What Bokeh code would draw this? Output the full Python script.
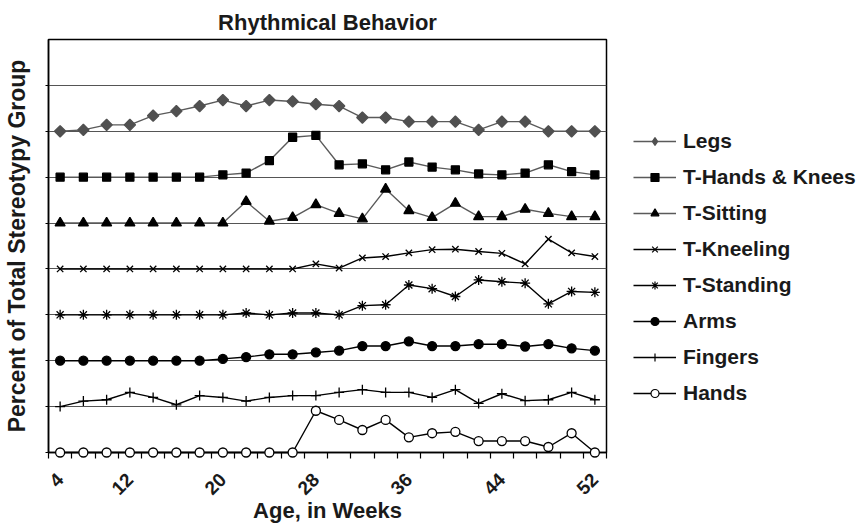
import math
from bokeh.plotting import figure
from bokeh.layouts import row
from bokeh.models import Range1d, FixedTicker, Legend, LegendItem
from bokeh.embed import file_html
from bokeh.resources import INLINE

# ---------------- data ----------------
weeks = [4, 7, 10, 12, 14, 16, 18, 20, 22, 24, 26, 28, 30, 32, 34, 36,
         38, 40, 42, 44, 46, 48, 50, 52]
tick_weeks = [4, 12, 20, 28, 36, 44, 52]

series_names = ["Legs", "T-Hands & Knees", "T-Sitting", "T-Kneeling",
                "T-Standing", "Arms", "Fingers", "Hands"]

legs = [0, 3, 14, 14, 34, 44, 55, 68, 55, 68, 65, 59, 55, 30, 30, 21, 21, 21, 3, 21, 21, 0, 0, 0]
hands_knees = [0, 0, 0, 0, 0, 0, 0, 5, 9, 36, 87, 91, 27, 29, 16, 33, 22, 16, 7, 5, 9, 27, 12, 5]
sitting = [0, 0, 0, 0, 0, 0, 0, 0, 47, 4, 12, 40, 21, 9, 74, 27, 12, 43, 14, 14, 30, 21, 14, 14]
kneeling = [0, 0, 0, 0, 0, 0, 0, 0, 0, 0, 0, 11, 2, 24, 27, 35, 42, 43, 38, 34, 11, 65, 35, 27]
standing = [0, 0, 0, 0, 0, 0, 0, 0, 4, 0, 4, 4, 0, 20, 22, 65, 57, 40, 76, 72, 69, 24, 51, 49]
arms = [0, 0, 0, 0, 0, 0, 0, 4, 8, 14, 14, 18, 22, 32, 32, 42, 32, 32, 36, 36, 31, 36, 27, 22]
fingers = [0, 12, 15, 31, 20, 4, 24, 20, 12, 20, 24, 24, 31, 37, 31, 31, 20, 37, 7, 28, 13, 15, 31, 15]
hands = [0, 0, 0, 0, 0, 0, 0, 0, 0, 0, 0, 91, 71, 49, 71, 33, 42, 45, 25, 25, 25, 12, 42, 0]

series_values = [legs, hands_knees, sitting, kneeling, standing, arms, fingers, hands]

# ---------------- styles ----------------
BAND = 100
n_bands = len(series_names) + 1
FONT = "Liberation Sans"
TXT = "#1a1a1a"

styles = [
    dict(marker="square", angle=math.pi / 4, size=8, fill="#505050", line="#505050", lc="#5a5a5a",
         lmarker="diamond", lsize=11),
    dict(marker="square", angle=0, size=8, fill="black", line="black", lc="#5a5a5a",
         lmarker="square", lsize=7),
    dict(marker="triangle", angle=0, size=10, fill="black", line="black", lc="#5a5a5a",
         lmarker="triangle", lsize=9),
    dict(marker="x", angle=0, size=9, fill="black", line="black", lc="black",
         lmarker="x", lsize=8),
    dict(marker="asterisk", angle=0, size=10, fill="black", line="black", lc="black",
         lmarker="asterisk", lsize=9),
    dict(marker="circle", angle=0, size=9, fill="black", line="black", lc="black",
         lmarker="circle", lsize=8),
    dict(marker="cross", angle=0, size=10, fill="black", line="black", lc="black",
         lmarker="cross", lsize=9),
    dict(marker="circle", angle=0, size=9, fill="white", line="black", lc="black",
         lmarker="circle", lsize=8),
]

x_idx = list(range(len(weeks)))

p = figure(width=608, height=529, output_backend="svg", toolbar_location=None,
           x_range=Range1d(-0.5, len(weeks) - 0.5),
           y_range=Range1d(0, n_bands * BAND),
           min_border_left=48, min_border_right=2,
           min_border_top=39, min_border_bottom=77)

p.title.text = "Rhythmical Behavior"
p.title.align = "center"
p.title.text_font = FONT
p.title.text_font_style = "bold"
p.title.text_font_size = "22px"
p.title.text_color = TXT
p.title.standoff = 10

p.outline_line_color = "black"
p.outline_line_width = 1.5
p.background_fill_color = "white"
p.border_fill_color = "white"

# grid
p.xgrid.visible = False
p.ygrid.ticker = FixedTicker(ticks=[i * BAND for i in range(n_bands + 1)])
p.ygrid.grid_line_color = "#555555"
p.ygrid.grid_line_width = 1.2

# y axis
p.yaxis.ticker = FixedTicker(ticks=[i * BAND for i in range(n_bands)])
p.yaxis.major_label_text_font_size = "0px"
p.yaxis.major_label_standoff = 0
p.yaxis.major_tick_out = 3
p.yaxis.major_tick_in = 0
p.yaxis.minor_tick_out = 0
p.yaxis.axis_line_color = "black"
p.yaxis.axis_line_width = 1.5
p.yaxis.axis_label = "Percent of Total Stereotypy Group"
p.yaxis.axis_label_text_font = FONT
p.yaxis.axis_label_text_font_style = "bold"
p.yaxis.axis_label_text_font_size = "23px"
p.yaxis.axis_label_text_color = TXT
p.yaxis.axis_label_standoff = 16

# x axis
tick_pos = [weeks.index(w) for w in tick_weeks]
p.xaxis.ticker = FixedTicker(ticks=tick_pos,
                             minor_ticks=[i - 0.5 for i in range(len(weeks) + 1)])
p.xaxis.major_label_overrides = {pos: str(w) for pos, w in zip(tick_pos, tick_weeks)}
p.xaxis.major_label_orientation = math.pi / 4
p.xaxis.major_label_text_font = FONT
p.xaxis.major_label_text_font_style = "bold"
p.xaxis.major_label_text_font_size = "19px"
p.xaxis.major_label_text_color = TXT
p.xaxis.major_label_standoff = 18
p.xaxis.major_tick_out = 0
p.xaxis.major_tick_in = 0
p.xaxis.minor_tick_out = 6
p.xaxis.minor_tick_in = 0
p.xaxis.minor_tick_line_color = "black"
p.xaxis.minor_tick_line_width = 1.2
p.xaxis.axis_line_color = "black"
p.xaxis.axis_line_width = 1.5
p.xaxis.axis_label = "Age, in Weeks"
p.xaxis.axis_label_text_font = FONT
p.xaxis.axis_label_text_font_style = "bold"
p.xaxis.axis_label_text_font_size = "22px"
p.xaxis.axis_label_text_color = TXT
p.xaxis.axis_label_standoff = -6

# legend lives in a companion figure whose view excludes the data
pl = figure(width=254, height=529, output_backend="svg", toolbar_location=None,
            x_axis_type=None, y_axis_type=None,
            x_range=Range1d(-0.5, len(weeks) - 0.5),
            y_range=Range1d(-20 * BAND, -19 * BAND),
            min_border=0)
pl.outline_line_color = None
pl.grid.visible = False
pl.background_fill_color = "white"
pl.border_fill_color = "white"

items = []
for i, (name, vals, st) in enumerate(zip(series_names, series_values, styles)):
    base = (len(series_names) - 1 - i) * BAND
    ys = [base + v for v in vals]
    kw_line = dict(line_color=st["lc"], line_width=1.4)
    lr = p.line(x_idx, ys, **kw_line)
    sr = p.scatter(x_idx, ys, marker=st["marker"], size=st["size"], angle=st["angle"],
                   fill_color=st["fill"], line_color=st["line"], line_width=1.3)
    lr.level = "annotation"
    sr.level = "annotation"
    llr = pl.line(x_idx, ys, **kw_line)
    lsr = pl.scatter(x_idx, ys, marker=st["lmarker"], size=st["lsize"],
                     fill_color=st["fill"], line_color=st["line"], line_width=1.2)
    items.append(LegendItem(label=name, renderers=[llr, lsr]))

legend = Legend(items=items, location=(25, 47))
legend.label_text_font = FONT
legend.label_text_font_style = "bold"
legend.label_text_font_size = "21px"
legend.label_text_color = TXT
legend.glyph_width = 43
legend.glyph_height = 20
legend.label_height = 20
legend.label_standoff = 7
legend.spacing = 12
legend.padding = 0
legend.margin = 0
legend.border_line_alpha = 0
legend.background_fill_alpha = 0
pl.add_layout(legend, "center")

layout = row(p, pl)
open("out.html", "w").write(file_html(layout, INLINE))
